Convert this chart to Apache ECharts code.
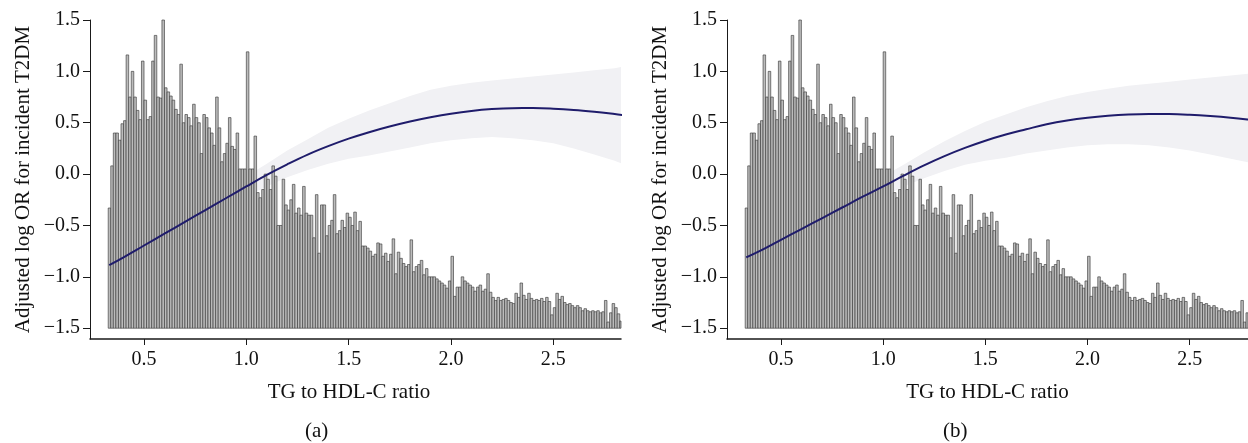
<!DOCTYPE html>
<html><head><meta charset="utf-8">
<script src="https://cdn.jsdelivr.net/npm/echarts@6/dist/echarts.min.js"></script>
<style>html,body{margin:0;padding:0;background:#fff}#c{width:1248px;height:443px}</style>
</head><body><div id="c"></div>
<script>
// ---- data ----
const binStart = 0.325;
const binWidth = 0.0125;
const histBase = -1.5;
const histTops = [
 -0.33, 0.08, 0.40, 0.40, 0.33, 0.49, 0.52, 1.16, 0.75, 1.00,
 0.75, 0.62, 0.53, 1.10, 0.72, 0.53, 0.56, 1.10, 1.35, 0.75,
 0.74, 1.50, 0.84, 0.80, 0.76, 0.72, 0.63, 0.58, 1.07, 0.50,
 0.58, 0.55, 0.47, 0.68, 0.55, 0.50, 0.20, 0.58, 0.55, 0.45,
 0.40, 0.28, 0.75, 0.45, 0.12, 0.20, 0.30, 0.55, 0.27, 0.24,
 0.40, 0.05, 0.05, 0.05, 1.19, 0.05, 0.05, 0.37, -0.18, -0.23,
 -0.15, 0.00, -0.05, -0.15, 0.08, -0.02, -0.50, -0.50, -0.05, -0.30,
 -0.35, -0.25, -0.10, -0.38, -0.33, -0.40, -0.12, -0.38, -0.40, -0.40,
 -0.62, -0.20, -0.77, -0.30, -0.30, -0.60, -0.50, -0.45, -0.20, -0.58,
 -0.55, -0.45, -0.52, -0.38, -0.42, -0.50, -0.37, -0.55, -0.46, -0.70,
 -0.70, -0.72, -0.75, -0.80, -0.78, -0.67, -0.68, -0.80, -0.77, -0.85,
 -0.78, -0.63, -0.97, -0.76, -0.82, -0.87, -0.90, -0.88, -0.64, -0.95,
 -0.90, -0.88, -0.84, -0.98, -0.92, -1.00, -1.00, -1.00, -1.02, -1.04,
 -1.06, -1.08, -1.11, -1.04, -0.80, -1.19, -1.10, -1.10, -1.00, -1.04,
 -1.06, -1.08, -1.10, -1.14, -1.10, -1.08, -1.14, -1.12, -0.97, -1.15,
 -1.20, -1.23, -1.20, -1.23, -1.22, -1.21, -1.23, -1.25, -1.26, -1.16,
 -1.20, -1.06, -1.18, -1.22, -1.16, -1.21, -1.23, -1.22, -1.23, -1.21,
 -1.24, -1.20, -1.24, -1.37, -1.30, -1.16, -1.22, -1.19, -1.25, -1.27,
 -1.26, -1.28, -1.30, -1.28, -1.30, -1.33, -1.31, -1.33, -1.34, -1.33,
 -1.34, -1.33, -1.35, -1.34, -1.23, -1.44, -1.35, -1.26, -1.30, -1.36,
 -1.43, -1.33
];
const curveX = [0.33,0.4,0.5,0.6,0.7,0.8,0.9,1.0,1.1,1.2,1.3,1.4,1.5,1.6,1.7,1.8,1.9,2.0,2.1,2.2,2.3,2.4,2.5,2.6,2.7,2.8,2.84];
const curveA = [-0.886,-0.81,-0.695,-0.58,-0.465,-0.35,-0.235,-0.12,-0.008,0.095,0.19,0.272,0.345,0.408,0.463,0.512,0.553,0.588,0.615,0.633,0.642,0.643,0.637,0.625,0.607,0.585,0.575];
const bandLowA  = [-1.25,-1.10,-0.90,-0.74,-0.59,-0.46,-0.34,-0.22,-0.12,-0.03,0.04,0.10,0.15,0.18,0.22,0.26,0.30,0.33,0.35,0.36,0.35,0.33,0.30,0.25,0.19,0.13,0.10];
const bandHighA = [-0.55,-0.53,-0.49,-0.42,-0.34,-0.24,-0.13,-0.02,0.10,0.23,0.34,0.45,0.54,0.62,0.69,0.76,0.82,0.86,0.89,0.91,0.93,0.95,0.97,0.99,1.01,1.03,1.045];
const curveB = [-0.81,-0.745,-0.64,-0.535,-0.43,-0.325,-0.22,-0.12,-0.015,0.085,0.175,0.255,0.325,0.385,0.436,0.485,0.522,0.549,0.568,0.580,0.585,0.584,0.577,0.565,0.549,0.528,0.518];
const bandLowB  = [-1.17,-1.03,-0.85,-0.70,-0.56,-0.44,-0.33,-0.22,-0.12,-0.04,0.03,0.09,0.13,0.16,0.20,0.23,0.26,0.28,0.29,0.29,0.28,0.26,0.23,0.19,0.15,0.11,0.09];
const bandHighB = [-0.48,-0.47,-0.44,-0.38,-0.31,-0.22,-0.12,-0.02,0.09,0.21,0.32,0.42,0.51,0.58,0.65,0.71,0.76,0.80,0.83,0.86,0.88,0.90,0.92,0.94,0.96,0.98,0.99];
const xTicks = [0.5,1.0,1.5,2.0,2.5];
const yTicks = [-1.5,-1.0,-0.5,0.0,0.5,1.0,1.5];
const xTitle = 'TG to HDL-C ratio';
const yTitle = 'Adjusted log OR for incident T2DM';
const panelLabels = ['(a)','(b)'];

// ---- chart ----
const FONT = 'Liberation Serif, Times New Roman, serif';
const chart = echarts.init(document.getElementById('c'), null, {renderer:'canvas'});
const fmt = v => (Math.abs(v) < 1e-9 ? 0 : v).toFixed(1).replace('-', '\u2212');

function xAxisCfg(gi, max, padRight){
  return {type:'value', gridIndex:gi, min:0.236, max:max,
    axisLine:{show:true, onZero:false, lineStyle:{color:'#1a1a1a', width:1.5}},
    axisTick:{show:true, customValues:xTicks, length:6, lineStyle:{color:'#1a1a1a'}},
    axisLabel:{customValues:xTicks, formatter:fmt, fontFamily:FONT, fontSize:20, color:'#111', margin:11},
    splitLine:{show:false},
    name:xTitle, nameLocation:'middle', nameGap:43,
    nameTextStyle:{fontFamily:FONT, fontSize:21, color:'#111', padding:[0, padRight, 0, 0]}};
}
function yAxisCfg(gi){
  return {type:'value', gridIndex:gi, min:-1.605, max:1.5,
    axisLine:{show:true, onZero:false, lineStyle:{color:'#1a1a1a', width:1}},
    axisTick:{show:true, customValues:yTicks, length:7, lineStyle:{color:'#1a1a1a'}},
    axisLabel:{customValues:yTicks, formatter:fmt, fontFamily:FONT, fontSize:20, color:'#111', margin:10},
    splitLine:{show:false},
    name:yTitle, nameLocation:'middle', nameGap:56, nameRotate:90,
    nameTextStyle:{fontFamily:FONT, fontSize:21, color:'#111'}};
}
function histSeries(gi){
  return {type:'custom', xAxisIndex:gi, yAxisIndex:gi, z:2, silent:true,
    data: histTops.map((t,i)=>[binStart+i*binWidth, binStart+(i+1)*binWidth, t]),
    encode:{x:[0,1], y:2},
    renderItem(params, api){
      const p0 = api.coord([api.value(0), histBase]);
      const p1 = api.coord([api.value(1), api.value(2)]);
      const cs = params.coordSys;
      const r = echarts.graphic.clipRectByRect(
        {x:p0[0], y:p1[1], width:p1[0]-p0[0], height:p0[1]-p1[1]},
        {x:cs.x, y:cs.y, width:cs.width, height:cs.height});
      if(!r) return;
      return {type:'rect', shape:r, style:{fill:'#bcbcbc', stroke:'#3d3d3d', lineWidth:0.65}};
    }};
}
function bandSeries(gi, low, high){
  return {type:'custom', xAxisIndex:gi, yAxisIndex:gi, z:1, silent:true,
    data: curveX.map((x,i)=>[x, low[i], high[i]]),
    encode:{x:0, y:[1,2]},
    renderItem(params, api){
      if(params.dataIndex !== 0) return;
      const upper = curveX.map((x,i)=>api.coord([x, high[i]]));
      const lower = curveX.map((x,i)=>api.coord([x, low[i]])).reverse();
      const cs = params.coordSys;
      return {type:'polygon', shape:{points:upper.concat(lower)},
        style:{fill:'#f1f1f4'},
        clipPath:{type:'rect', shape:{x:cs.x, y:cs.y, width:cs.width, height:cs.height}}};
    }};
}
function curveSeries(gi, vals){
  return {type:'line', xAxisIndex:gi, yAxisIndex:gi, z:5, silent:true,
    data:curveX.map((x,i)=>[x, vals[i]]), showSymbol:false, smooth:0.4,
    lineStyle:{color:'#1f1c6b', width:2}};
}

chart.setOption({
  animation:false,
  backgroundColor:'#fff',
  grid:[
    {left:90, top:20, width:531, bottom:104, containLabel:false},
    {left:727, top:20, right:0, bottom:104, containLabel:false}
  ],
  xAxis:[xAxisCfg(0, 2.831, 13), xAxisCfg(1, 2.785, 0)],
  yAxis:[yAxisCfg(0), yAxisCfg(1)],
  series:[
    bandSeries(0, bandLowA, bandHighA),
    histSeries(0),
    curveSeries(0, curveA),
    bandSeries(1, bandLowB, bandHighB),
    histSeries(1),
    curveSeries(1, curveB)
  ],
  graphic:[
    {type:'text', left:305, top:421, style:{text:panelLabels[0], font:'21px '+FONT, fill:'#111'}},
    {type:'text', left:943, top:421, style:{text:panelLabels[1], font:'21px '+FONT, fill:'#111'}}
  ]
});
</script></body></html>
